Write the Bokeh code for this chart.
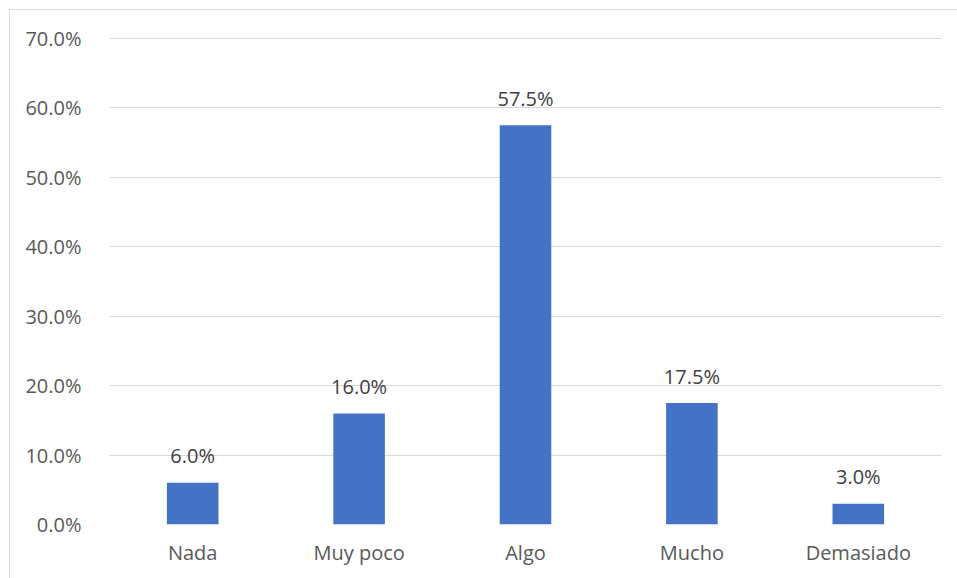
from bokeh.plotting import figure
from bokeh.models import ColumnDataSource, FixedTicker, Range1d, CustomJSTickFormatter
from bokeh.embed import file_html
from bokeh.resources import INLINE
from bokeh.core.properties import value

categories = ["Nada", "Muy poco", "Algo", "Mucho", "Demasiado"]
values = [6.0, 16.0, 57.5, 17.5, 3.0]
labels = ["6.0%", "16.0%", "57.5%", "17.5%", "3.0%"]
yticks = [0, 10, 20, 30, 40, 50, 60, 70]

src = ColumnDataSource(dict(cat=categories, val=values, lab=labels))

FONT = "Open Sans"

p = figure(x_range=categories, y_range=Range1d(0, 70.15), width=948, height=569,
           output_backend="svg", toolbar_location=None,
           min_border_left=99, min_border_right=17, min_border_top=27, min_border_bottom=55)
p.styles = {"border-left": "1px solid #d9d9d9", "border-top": "1px solid #d9d9d9",
            "box-sizing": "border-box", "margin-left": "9px", "margin-top": "9px"}
p.outline_line_color = None

p.vbar(x="cat", top="val", width=0.31, source=src, fill_color="#4472c4", line_color=None)
p.text(x="cat", y="val", text="lab", source=src, text_align="center", text_baseline="alphabetic",
       y_offset=-27, text_font=value(FONT), text_font_size="20px", text_color="#404040")

p.yaxis.ticker = FixedTicker(ticks=yticks)
p.yaxis.formatter = CustomJSTickFormatter(code="return tick.toFixed(1) + '%';")
for ax in (p.xaxis, p.yaxis):
    ax.axis_line_color = None
    ax.major_tick_line_color = None
    ax.minor_tick_line_color = None
    ax.major_label_text_font = FONT
    ax.major_label_text_font_size = "20px"
    ax.major_label_text_color = "#595959"
p.yaxis.major_label_standoff = 22
p.xaxis.major_label_standoff = 8
p.xgrid.grid_line_color = None
p.ygrid.grid_line_color = "#d9d9d9"
p.ygrid.grid_line_width = 1
p.ygrid.ticker = FixedTicker(ticks=yticks)

open("out.html", "w").write(file_html(p, INLINE))
